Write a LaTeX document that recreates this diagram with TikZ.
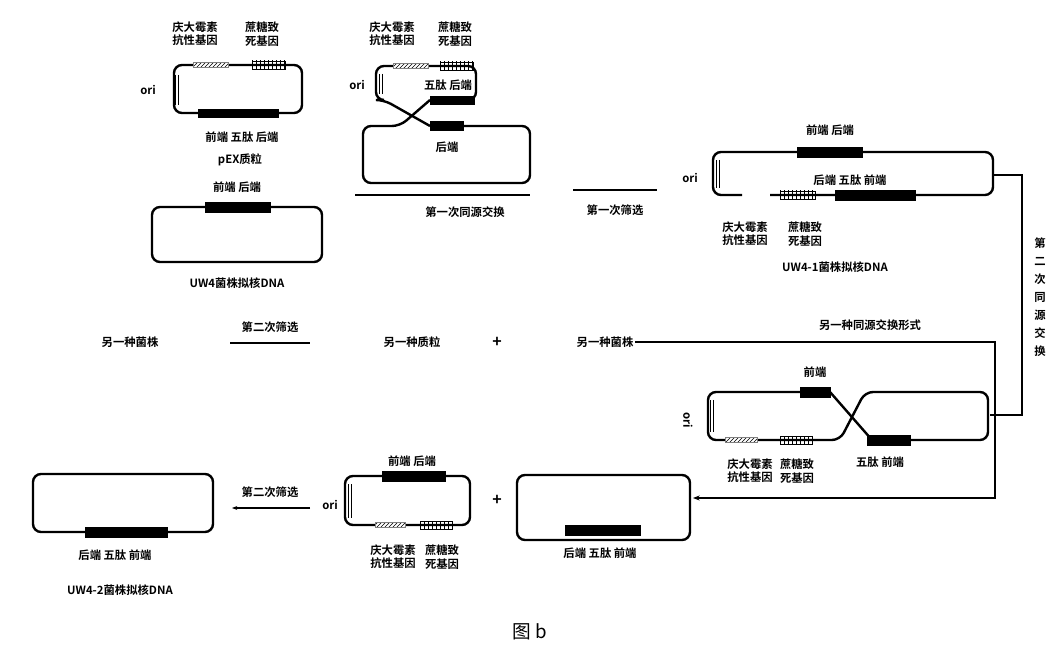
\documentclass[tikz,border=0pt]{standalone}
\usepackage{fontspec}
\setmainfont{Noto Sans CJK SC}[BoldFont={* Bold}]
\usetikzlibrary{patterns,arrows.meta}
\begin{document}
\begin{tikzpicture}[x=0.75pt,y=-0.75pt,
 loop/.style={draw,line width=1.8pt,rounded corners=6pt},
 bar/.style={fill=black,draw=black},
 hatch/.style={pattern=north east lines,draw=gray,line width=0.4pt},
 sbox/.style={fill=white,draw=black,line width=0.7pt,pattern=vertical lines},
 lbl/.style={font=\bfseries\fontsize{8.5}{10}\selectfont,align=center,inner sep=1pt},
 orid/.style={draw,double,line width=0.5pt,double distance=1.5pt},
 conn/.style={draw,line width=0.8pt}]
\useasboundingbox (0,0) rectangle (1061,652);
% pEX
\draw[loop] (174,65) rectangle (302,113);
\draw[orid] (177,75)--(177,105);
\node[lbl] (ori1) at (148,90) {ori};
\fill[white] (193,62) rectangle (228,68); \draw[hatch] (193,62.5) rectangle (228,67.5);
\draw[sbox] (252,61) rectangle (285,69);
\draw[bar] (198,109) rectangle (278,117);
\node[lbl] (g1) at (195,34) {庆大霉素\\抗性基因};
\node[lbl] (s1) at (262,34) {蔗糖致\\死基因};
\node[lbl] (f1) at (242,137) {前端 五肽 后端};
\node[lbl] (p1) at (240,160) {pEX质粒};
% UW4
\draw[loop] (152,207) rectangle (322,262);
\draw[bar] (205,202) rectangle (270,212);
\node[lbl] (f2) at (237,187) {前端 后端};
\node[lbl] (u1) at (237,283) {UW4菌株拟核DNA};
% crossing 1
\draw[loop] (430,100) -- (476,100) -- (476,66) -- (376,66) -- (376,100) -- (384,100) -- (430,126);
\draw[loop] (430,100) -- (400,126) -- (363,126) -- (363,183) -- (530,183) -- (530,126) -- (462,126);
\draw[orid] (381,74)--(381,94);
\fill[white] (393,63) rectangle (428,69); \draw[hatch] (393,63.5) rectangle (428,68.5);
\draw[sbox] (440,62) rectangle (473,70);
\draw[bar] (430,96) rectangle (474,104);
\draw[bar] (430,121) rectangle (463,130);
\node[lbl] (ori2) at (357,85) {ori};
\node[lbl] (g2) at (392,34) {庆大霉素\\抗性基因};
\node[lbl] (s2) at (455,34) {蔗糖致\\死基因};
\node[lbl] (f3) at (448,85) {五肽 后端};
\node[lbl] (f4) at (447,147) {后端};
\coordinate (l1a) at (355,195); \coordinate (l1b) at (530,195);
\draw[conn] (l1a)--(l1b);
\node[lbl] (t1) at (465,212) {第一次同源交换};
\coordinate (l2a) at (573,190); \coordinate (l2b) at (657,190);
\draw[conn] (l2a)--(l2b);
\node[lbl] (t2) at (615,210) {第一次筛选};
% UW4-1
\draw[loop] (742,195) -- (713,195) -- (713,152) -- (993,152) -- (993,195) -- (770,195);
\draw[orid] (718,160)--(718,188);
\draw[sbox] (780,191) rectangle (815,199);
\draw[bar] (797,147) rectangle (862,157);
\draw[bar] (835,190) rectangle (915,200);
\node[lbl] (ori3) at (690,178) {ori};
\node[lbl] (f5) at (830,130) {前端 后端};
\node[lbl] (f6) at (850,180) {后端 五肽 前端};
\node[lbl] (g3) at (745,234) {庆大霉素\\抗性基因};
\node[lbl] (s3) at (805,234) {蔗糖致\\死基因};
\node[lbl] (u2) at (835,267) {UW4-1菌株拟核DNA};
\coordinate (r1) at (993,175); \coordinate (r2) at (1022,175);
\coordinate (r3) at (1022,415); \coordinate (r4) at (990,415);
\draw[conn] (r1)--(r2)--(r3)--(r4);
\node[lbl,align=center,font=\bfseries\fontsize{8.5}{13.5}\selectfont] (t3) at (1040,297) {第\\二\\次\\同\\源\\交\\换};
% middle row
\node[lbl] (m1) at (130,342) {另一种菌株};
\node[lbl] (t4) at (270,327) {第二次筛选};
\coordinate (l3a) at (230,343); \coordinate (l3b) at (310,343);
\draw[conn] (l3a)--(l3b);
\node[lbl] (m2) at (412,342) {另一种质粒};
\node[font=\bfseries\large] (pl1) at (497,342) {+};
\node[lbl] (m3) at (605,342) {另一种菌株};
\node[lbl] (t5) at (870,325) {另一种同源交换形式};
\coordinate (q1) at (995,342); \coordinate (q2) at (995,498); \coordinate (q3) at (693,498);
\draw[conn,-{Stealth[length=5pt]}] (m3.east)--(q1)--(q2)--(q3);
% crossing 2
\draw[loop] (830,392) -- (708,392) -- (708,440) -- (840,440) -- (865,392) -- (988,392) -- (988,440) -- (910,440);
\draw[loop] (830,392) -- (872,440);
\draw[orid] (712,400)--(712,432);
\fill[white] (725,437) rectangle (757,443); \draw[hatch] (725,437.5) rectangle (757,442.5);
\draw[sbox] (780,436) rectangle (812,444);
\draw[bar] (800,387) rectangle (830,397);
\draw[bar] (867,435) rectangle (910,445);
\node[lbl,rotate=-90] (ori4) at (688,420) {ori};
\node[lbl] (f7) at (815,372) {前端};
\node[lbl] (g4) at (750,471) {庆大霉素\\抗性基因};
\node[lbl] (s4) at (797,471) {蔗糖致\\死基因};
\node[lbl] (f8) at (880,462) {五肽 前端};
% bottom
\draw[loop] (33,474) rectangle (213,532);
\draw[bar] (85,527) rectangle (167,537);
\node[lbl] (f9) at (115,555) {后端 五肽 前端};
\node[lbl] (u3) at (120,590) {UW4-2菌株拟核DNA};
\node[lbl] (t6) at (270,492) {第二次筛选};
\coordinate (l4a) at (310,508); \coordinate (l4b) at (232,508);
\draw[conn,-{Stealth[length=4pt]}] (l4a)--(l4b);
\draw[loop] (345,476) rectangle (470,525);
\draw[orid] (350,484)--(350,518);
\fill[white] (375,522) rectangle (405,528); \draw[hatch] (375,522.5) rectangle (405,527.5);
\draw[sbox] (420,521) rectangle (452,529);
\draw[bar] (382,471) rectangle (445,481);
\node[lbl] (ori5) at (330,505) {ori};
\node[lbl] (f10) at (412,461) {前端 后端};
\node[lbl] (g5) at (393,557) {庆大霉素\\抗性基因};
\node[lbl] (s5) at (442,557) {蔗糖致\\死基因};
\node[font=\bfseries\large] (pl2) at (497,500) {+};
\draw[loop] (517,475) rectangle (690,540);
\draw[bar] (565,525) rectangle (640,535);
\node[lbl] (f11) at (600,553) {后端 五肽 前端};
\node[font=\fontsize{14}{16}\selectfont] (fig) at (530,632) {图 b};
\end{tikzpicture}
\end{document}
